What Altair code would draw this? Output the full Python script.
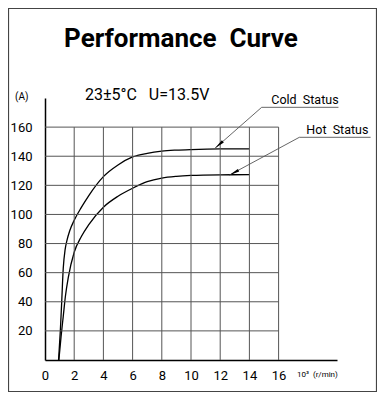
import altair as alt
import pandas as pd

# ---- data ----
cold_speed = [0.93, 1.05, 1.14, 1.25, 1.38, 1.5, 1.7, 2.0, 2.5, 3.0, 4.0, 5.0, 6.0, 7.0, 8.0, 9.0, 10.0, 12.0, 14.0]
cold_current = [0, 20, 39, 63, 76, 82, 89, 96, 105, 113, 126, 134, 139.5, 142, 143.5, 144.2, 144.6, 145, 145]
hot_speed = [0.95, 1.1, 1.25, 1.4, 1.6, 2.0, 2.5, 3.0, 4.0, 5.0, 6.0, 7.0, 8.0, 9.0, 10.0, 12.0, 14.0]
hot_current = [0, 16, 30, 44, 57, 74, 85, 93, 105, 112.5, 118, 122.5, 125, 126.2, 126.8, 127.2, 127.3]

x_ticks = [0, 2, 4, 6, 8, 10, 12, 14, 16]
y_ticks = [20, 40, 60, 80, 100, 120, 140, 160]

FONT = "Roboto"
NB = "\u00a0"

curves = pd.DataFrame(
    [{"speed": s, "current": c, "series": "Cold Status"} for s, c in zip(cold_speed, cold_current)]
    + [{"speed": s, "current": c, "series": "Hot Status"} for s, c in zip(hot_speed, hot_current)]
)

xs = alt.Scale(domain=[0, 20], nice=False, zero=False)
ys = alt.Scale(domain=[0, 180], nice=False, zero=False)
xaxis = alt.Axis(values=x_ticks, title=None, grid=False, ticks=False, domainColor="black",
                 domainWidth=1.5, labelFont=FONT, labelFontSize=13, labelPadding=9,
                 labelColor="black", labelOverlap=False, labelBound=False, labelFlush=False)
yaxis = alt.Axis(values=y_ticks, title=None, grid=False, ticks=False, domainColor="black",
                 domainWidth=1.5, labelFont=FONT, labelFontSize=13, labelPadding=13,
                 labelColor="black", labelOverlap=False, labelBound=False, labelFlush=False)


def X(f):
    return alt.X(f, scale=xs, axis=xaxis, title=None)


def Y(f):
    return alt.Y(f, scale=ys, axis=yaxis, title=None)


# grid lines (only inside 0..16 x 0..160)
vgrid = alt.Chart(pd.DataFrame({"x": x_ticks[1:], "y0": 0, "y1": 160})).mark_rule(
    color="#555", strokeWidth=1).encode(x=X("x:Q"), y=Y("y0:Q"), y2="y1:Q")
hgrid = alt.Chart(pd.DataFrame({"y": y_ticks, "x0": 0, "x1": 16})).mark_rule(
    color="#555", strokeWidth=1).encode(y=Y("y:Q"), x=X("x0:Q"), x2="x1:Q")

lines = alt.Chart(curves).mark_line(color="black", strokeWidth=1.3, interpolate="monotone", clip=False).encode(
    x=X("speed:Q"), y=Y("current:Q"), detail="series:N"
)

# leader lines for the labels (data coordinates)
leaders = pd.DataFrame({
    "x": [11.64, 14.84, 12.62, 17.42],
    "y": [145.4, 173.6, 127.0, 153.0],
    "x2": [14.84, 20.1, 17.42, 22.3],
    "y2": [173.6, 173.6, 153.0, 153.0],
})
leader = alt.Chart(leaders).mark_rule(color="#555", strokeWidth=0.9, clip=False).encode(
    x=X("x:Q"), y=Y("y:Q"), x2="x2:Q", y2="y2:Q"
)

arrows = pd.DataFrame({"x": [11.64, 12.62], "y": [145.4, 127.0], "ang": [229, 242]})
arrow = alt.Chart(arrows).mark_point(
    shape="M0,0L0.28,2L-0.28,2Z", filled=True, color="black", opacity=1, size=110, clip=False
).encode(x=X("x:Q"), y=Y("y:Q"), angle=alt.Angle("ang:Q", scale=None))

labels = pd.DataFrame({"x": [15.5, 17.9], "y": [175.6, 155.2],
                       "t": ["Cold" + NB * 2 + "Status", "Hot" + NB * 2 + "Status"]})
label = alt.Chart(labels).mark_text(
    font=FONT, fontSize=12.5, align="left", baseline="alphabetic", color="black", clip=False
).encode(x=X("x:Q"), y=Y("y:Q"), text="t:N")

# free annotations in plot pixel coordinates
title = alt.Chart(pd.DataFrame({"t": ["Performance" + NB * 2 + "Curve"]})).mark_text(
    font=FONT, fontSize=26, fontWeight="bold", align="center", baseline="alphabetic", color="black"
).encode(x=alt.value(136), y=alt.value(-51), text="t:N")

cond = alt.Chart(pd.DataFrame({"t": ["23±5°C" + NB * 3 + "U=13.5V"]})).mark_text(
    font=FONT, fontSize=16, align="left", baseline="alphabetic", color="black"
).encode(x=alt.value(40), y=alt.value(2), text="t:N")

unit_a = alt.Chart(pd.DataFrame({"t": ["(A)"]})).mark_text(
    font=FONT, fontSize=10, align="left", baseline="alphabetic", color="black"
).encode(x=alt.value(-30), y=alt.value(2), text="t:N")

unit_x = alt.Chart(pd.DataFrame({"t": ["10³" + NB * 2 + "(r/min)"]})).mark_text(
    font=FONT, fontSize=8, align="left", baseline="alphabetic", color="black"
).encode(x=alt.value(252), y=alt.value(279), text="t:N")

frame = alt.Chart(pd.DataFrame({"a": [0]})).mark_rect(
    fill=None, stroke="#444", strokeWidth=1.2, clip=False
).encode(x=alt.value(-36.5), x2=alt.value(331.5), y=alt.value(-89.5), y2=alt.value(293.5))

chart = alt.layer(frame, lines, vgrid, hgrid, leader, arrow, label, title, cond, unit_a, unit_x).properties(
    width=292, height=262,
    autosize=alt.AutoSizeParams(type="none"),
    padding={"left": 37, "top": 90, "right": 40, "bottom": 32},
    background="white",
).configure_view(stroke=None)

chart.save("out.html", embed_options={"renderer": "svg", "actions": False})
